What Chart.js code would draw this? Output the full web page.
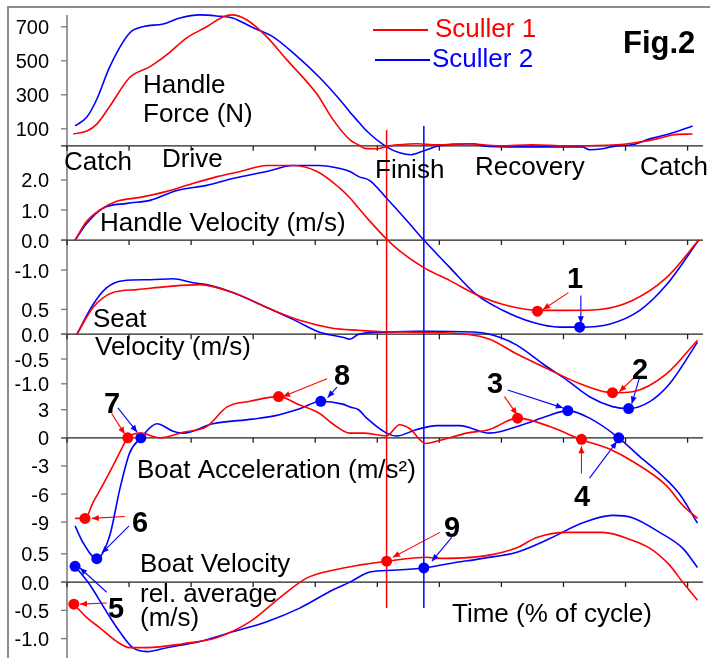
<!DOCTYPE html>
<html>
<head>
<meta charset="utf-8">
<title>Fig.2 sculler comparison</title>
<script src="https://cdn.jsdelivr.net/npm/chart.js@4/dist/chart.umd.min.js"></script>
<style>
  html, body { margin: 0; padding: 0; background: #fff; }
  #wrap { position: relative; width: 710px; height: 658px; }
</style>
</head>
<body>
<div id="wrap"><canvas id="rowingChart" width="710" height="658"></canvas></div>
<script>
// All series are [time (% of cycle), value] pairs
const forceS1 = [[1,70],[3.2,87],[4.8,128],[6.9,233],[10.1,402],[13.4,466],[16.1,536],[19.3,635],[22.5,700],[25.1,758],[26.6,770],[29,740],[32.2,641],[35.4,507],[40.3,303],[42.8,157],[45.6,35],[47,5],[48,-15],[50,-17],[51.5,-3],[53.6,6],[56.4,12],[59.6,6],[64.4,12],[69.7,0],[75,6],[80.5,0],[88.6,6],[92.3,23],[95,41],[97.6,64],[100.8,70]];
const forceS2 = [[1.3,117],[3.2,169],[4.8,274],[6.9,466],[10.1,664],[12.2,700],[15.5,717],[18.2,752],[21.4,770],[24.1,764],[26.7,752],[30,694],[33.2,641],[36.4,548],[40.7,402],[43.9,274],[45.6,198],[47,140],[48.3,87],[51.5,-6],[53.6,-41],[55.5,-52],[57.5,-29],[60,0],[65.4,12],[67,0],[72.5,-6],[77.8,-6],[83,-6],[84.2,-23],[86.3,-17],[88.6,0],[91,6],[93.9,41],[97,70],[100.8,117]];

const handleVelS1 = [[1.3,0],[3.2,0.63],[5.3,1.0],[8,1.29],[11.8,1.42],[16.1,1.62],[19.3,1.82],[24.2,2.11],[27.9,2.28],[32.2,2.48],[36.4,2.48],[40.3,2.28],[44,1.72],[45.6,1.4],[47,1.06],[48.8,0.63],[51.5,0.03],[53.6,-0.36],[57.5,-0.92],[61.7,-1.35],[66,-1.82],[70.9,-2.18],[75.8,-2.34],[80.5,-2.34],[85.8,-2.31],[91.1,-2.01],[96.6,-1.25],[101.8,0]];
const handleVelS2 = [[1.3,0],[3.2,0.56],[5.8,1.06],[9.7,1.22],[13.4,1.32],[17.7,1.65],[22.5,1.82],[26.7,2.05],[32.2,2.28],[36.4,2.48],[40.7,2.48],[44,2.38],[45.6,2.28],[47,2.11],[48.8,1.98],[51.5,1.39],[54.7,0.66],[57.5,0],[61.7,-0.92],[66,-1.82],[70.2,-2.34],[75,-2.74],[79.4,-2.9],[82.6,-2.9],[87.4,-2.8],[92.3,-2.34],[96.6,-1.49],[101.8,0]];

const seatVelS1 = [[1.6,0],[4.2,0.54],[7.4,0.84],[11.3,0.9],[16.1,0.96],[21.4,1.0],[26.7,0.84],[32.2,0.54],[37.5,0.28],[42.8,0.12],[47,0.08],[50.9,0.05],[56.4,0.04],[64.4,0],[68.1,-0.1],[72.5,-0.4],[77.8,-0.72],[83.1,-1.02],[87.9,-1.18],[91.1,-1.16],[96.6,-0.8],[101.6,-0.12]];
const seatVelS2 = [[1.6,0],[4.2,0.6],[6.4,0.94],[9,1.08],[13.4,1.1],[17.1,1.12],[20.3,1.04],[22.5,1.0],[26.7,0.84],[32.2,0.54],[36.4,0.3],[40.7,0.04],[44.4,-0.06],[45.6,-0.1],[47,0],[50.9,0.04],[56.4,0.06],[58.5,0.06],[66,0.04],[69.7,-0.06],[72.5,-0.22],[76.7,-0.6],[80.5,-0.92],[84.2,-1.26],[87.9,-1.46],[90.5,-1.5],[93.9,-1.36],[97.1,-1.0],[101.6,-0.16]];

const accelS1 = [[1.3,-8.6],[2.9,-8.6],[4.2,-6.9],[5.8,-5.0],[7.4,-3.0],[9,-0.9],[9.8,0],[11.8,0.5],[15,0],[18.7,0.6],[22.5,1.2],[25.8,3.3],[29.5,3.9],[34.1,4.4],[37.5,3.5],[40.7,2.6],[42.8,1.5],[45.6,0.5],[47.7,0.5],[51.5,0.2],[53.6,1.4],[55.2,1.0],[57.8,-0.6],[60.5,-0.2],[64.4,0.5],[68.1,0.9],[72.6,2.1],[77.8,1.2],[82.9,-0.2],[87.4,-1.2],[91.1,-2.5],[96.6,-5.1],[99.2,-7.2],[101.6,-8.6]];
const accelS2 = [[1.3,-9.4],[2.6,-11.2],[4.8,-12.9],[6.9,-10.4],[8.5,-5.5],[10.1,-1.6],[11.9,0],[14.5,1.5],[17.1,0.7],[18.7,0.5],[23.5,1.5],[29.9,2.0],[33.8,2.4],[37.5,3.1],[40.9,3.9],[44.4,3.6],[45.6,3.3],[47,3.0],[48.3,2.1],[51.5,0.5],[53.1,0.2],[56.4,0.9],[59.6,1.3],[63.3,1.3],[68.1,0.5],[73.4,1.4],[77.3,2.3],[80.7,2.9],[84.2,2.1],[88.9,0],[92.3,-2.0],[96,-4.1],[98.7,-6.0],[101.6,-9.1]];

const boatVelS1 = [[1.1,-0.39],[3.2,-0.63],[5.3,-0.81],[8,-1.05],[10.1,-1.16],[12.9,-1.16],[18.7,-1.09],[24.2,-0.98],[29.5,-0.7],[34.8,-0.23],[38.6,0.07],[42.8,0.21],[47,0.3],[51.5,0.37],[58,0.44],[59.6,0.42],[67,0.46],[72.5,0.61],[75.7,0.79],[80.5,0.88],[86.3,0.88],[91.1,0.74],[93.9,0.6],[97.1,0.3],[99.2,0],[101.6,-0.32]];
const boatVelS2 = [[1.3,0.28],[3.7,-0.05],[6.4,-0.53],[8.5,-0.88],[10.6,-1.16],[12.9,-1.23],[16.1,-1.16],[21.4,-1.05],[26.7,-0.88],[32.2,-0.7],[37.5,-0.46],[42.8,-0.14],[45.6,0],[48.8,0.18],[52.5,0.21],[57.5,0.25],[61.7,0.33],[67,0.42],[72.5,0.53],[77.8,0.77],[83.1,1.05],[87.9,1.18],[91.1,1.14],[95.5,0.88],[99.2,0.6],[101.6,0.26]];

// finish of the drive for each sculler (drawn against the boat velocity axis)
const finishS1 = [[51.5,8.0],[51.5,-0.46]];
const finishS2 = [[57.5,8.07],[57.5,-0.46]];

// numbered points: [time %, value]
const handleMarksS1 = [[75.8,-2.37]];           // 1
const handleMarksS2 = [[82.6,-2.9]];
const seatMarksS1 = [[87.9,-1.18]];             // 2
const seatMarksS2 = [[90.5,-1.5]];
const accelMarksS1 = [[72.6,2.1],[82.9,-0.16],[2.9,-8.6],[9.8,0],[34.1,4.4]];   // 3,4,6,7,8
const accelMarksS2 = [[80.7,2.9],[88.9,0],[4.8,-12.9],[11.9,0],[40.9,3.9]];
const boatMarksS1 = [[1.1,-0.39],[51.5,0.37]];  // 5,9
const boatMarksS2 = [[1.3,0.28],[57.5,0.25]];

// pointer lines from the numbers to the points: [axis, sculler, start, end]
const pointers = [
  ['yHandle', 'S1', [80.8,-1.75], [76.7,-2.31]],
  ['yHandle', 'S2', [82.8,-1.85], [82.8,-2.77]],
  ['ySeat', 'S1', [91.5,-0.86], [89.0,-1.16]],
  ['ySeat', 'S2', [92.3,-0.86], [91.0,-1.4]],
  ['yAccel', 'S1', [70.5,4.4], [72.5,2.5]],
  ['yAccel', 'S2', [71.0,5.1], [79.9,3.2]],
  ['yAccel', 'S1', [82.9,-3.8], [82.9,-0.9]],
  ['yAccel', 'S2', [84.2,-4.3], [88.6,-0.4]],
  ['yAccel', 'S1', [9.3,-8.4], [4.0,-8.6]],
  ['yAccel', 'S2', [10.0,-9.4], [5.6,-12.3]],
  ['yAccel', 'S1', [7.2,2.6], [9.3,0.4]],
  ['yAccel', 'S2', [8.2,3.2], [11.3,0.6]],
  ['yAccel', 'S1', [41.9,6.3], [34.8,4.4]],
  ['yAccel', 'S2', [43.5,5.4], [42.0,4.3]],
  ['yBoat', 'S1', [6.4,-0.37], [2.1,-0.39]],
  ['yBoat', 'S2', [6.4,-0.18], [2.1,0.25]],
  ['yBoat', 'S1', [60.1,0.88], [52.5,0.44]],
  ['yBoat', 'S2', [62.0,0.79], [58.8,0.37]]
];

// tick labels
const cycleTicks = [0,10,20,30,40,50,60,70,80,90,100];
const forceTicks = [700,500,300,100];
const handleVelTicks = [2,1,0,-1];
const seatVelTicks = [0.5,0,-0.5,-1];
const accelTicks = [3,0,-3,-6,-9];
const boatVelTicks = [0.5,0,-0.5,-1];

const COLORS = { S1: '#ff0000', S2: '#0000ff' };
const FONT = '"Liberation Sans", Arial, sans-serif';

// vertical placement of each panel: pixel row of its zero line and pixels per unit
const TOP = 10, BOTTOM = 658;
const panels = [
  { id: 'yForce', zero: 147, unit: 0.1715, ticks: forceTicks, digits: 0 },
  { id: 'yHandle', zero: 242, unit: 30.3, ticks: handleVelTicks, digits: 1 },
  { id: 'ySeat', zero: 337, unit: 50, ticks: seatVelTicks, digits: 1 },
  { id: 'yAccel', zero: 441.5, unit: 9.45, ticks: accelTicks, digits: 0 },
  { id: 'yBoat', zero: 587, unit: 57, ticks: boatVelTicks, digits: 1 }
];

// text placed on the figure: [text, x, baseline, style, color]
const labels = [
  ['Handle', 143, 93], ['Force (N)', 143, 122],
  ['Catch', 64, 170], ['Drive', 162, 167],
  ['Finish', 375, 178], ['Recovery', 475, 175], ['Catch', 640, 175],
  ['Handle Velocity (m/s)', 100, 231],
  ['Seat', 93, 327], ['Velocity (m/s)', 95, 355],
  ['Boat Acceleration (m/s²)', 137, 478],
  ['Boat Velocity', 140, 572], ['rel. average', 140, 602], ['(m/s)', 140, 626],
  ['Time (% of cycle)', 452, 622],
  ['Sculler 1', 435, 37, '', COLORS.S1], ['Sculler 2', 432, 67, '', COLORS.S2],
  ['Fig.2', 623, 53, 'bold 31px']
];
const numbers = [['1',575,288],['2',640,379],['3',495,393],['4',582,506],['5',116,618],['6',140,532],['7',112,413],['8',342,385],['9',452,537]];

function toXY(points) {
  return points.map(([x, y]) => ({ x, y }));
}

function curve(points, who, axis) {
  return {
    data: toXY(points), yAxisID: axis, borderColor: COLORS[who], borderWidth: 1.6,
    pointRadius: 0, cubicInterpolationMode: 'monotone', fill: false, clip: false
  };
}

function marks(points, who, axis) {
  return {
    data: toXY(points), yAxisID: axis, showLine: false, pointRadius: 5.5,
    pointBackgroundColor: COLORS[who], pointBorderWidth: 0, clip: false
  };
}

const datasets = [
  curve(forceS1, 'S1', 'yForce'), curve(forceS2, 'S2', 'yForce'),
  curve(handleVelS1, 'S1', 'yHandle'), curve(handleVelS2, 'S2', 'yHandle'),
  curve(seatVelS1, 'S1', 'ySeat'), curve(seatVelS2, 'S2', 'ySeat'),
  curve(accelS1, 'S1', 'yAccel'), curve(accelS2, 'S2', 'yAccel'),
  curve(boatVelS1, 'S1', 'yBoat'), curve(boatVelS2, 'S2', 'yBoat'),
  { data: toXY(finishS1), yAxisID: 'yBoat', borderColor: COLORS.S1, borderWidth: 1.5, pointRadius: 0, clip: false },
  { data: toXY(finishS2), yAxisID: 'yBoat', borderColor: COLORS.S2, borderWidth: 1.5, pointRadius: 0, clip: false },
  marks(handleMarksS1, 'S1', 'yHandle'), marks(handleMarksS2, 'S2', 'yHandle'),
  marks(seatMarksS1, 'S1', 'ySeat'), marks(seatMarksS2, 'S2', 'ySeat'),
  marks(accelMarksS1, 'S1', 'yAccel'), marks(accelMarksS2, 'S2', 'yAccel'),
  marks(boatMarksS1, 'S1', 'yBoat'), marks(boatMarksS2, 'S2', 'yBoat')
];
pointers.forEach(([axis, who, a, b]) => {
  datasets.push({ data: toXY([a, b]), yAxisID: axis, borderColor: COLORS[who], borderWidth: 1.1, pointRadius: 0, clip: false, arrow: true });
});

const scales = { x: { type: 'linear', display: false, min: 0, max: 102 } };
panels.forEach(p => {
  scales[p.id] = { type: 'linear', display: false, min: (p.zero - BOTTOM) / p.unit, max: (p.zero - TOP) / p.unit };
});

// draws the frame, the shared left axis, each panel's zero line and tick labels, and the text
const overlay = {
  id: 'overlay',
  beforeDatasetsDraw(chart) {
    const ctx = chart.ctx, area = chart.chartArea, xs = chart.scales.x;
    ctx.save();
    ctx.strokeStyle = '#8c8c8c';
    ctx.lineWidth = 2;
    ctx.beginPath();
    ctx.moveTo(8, chart.height); ctx.lineTo(8, 7); ctx.lineTo(chart.width, 7);
    ctx.stroke();

    ctx.strokeStyle = '#777';
    ctx.lineWidth = 1.5;
    ctx.beginPath();
    ctx.moveTo(area.left, 15); ctx.lineTo(area.left, chart.height);
    ctx.stroke();

    ctx.font = '20px ' + FONT;
    ctx.textAlign = 'right';
    ctx.textBaseline = 'middle';
    ctx.fillStyle = '#000';
    panels.forEach(p => {
      const ys = chart.scales[p.id];
      const y0 = ys.getPixelForValue(0);
      ctx.strokeStyle = '#222';
      ctx.lineWidth = 1.3;
      ctx.beginPath();
      ctx.moveTo(area.left - 6, y0); ctx.lineTo(area.right + 3, y0);
      cycleTicks.forEach(t => {
        const x = xs.getPixelForValue(t);
        ctx.moveTo(x, y0); ctx.lineTo(x, y0 + 5);
      });
      ctx.stroke();
      ctx.strokeStyle = '#777';
      p.ticks.forEach(v => {
        const y = ys.getPixelForValue(v);
        ctx.beginPath();
        ctx.moveTo(area.left - 6, y); ctx.lineTo(area.left, y);
        ctx.stroke();
        ctx.fillText(v.toFixed(p.digits), area.left - 18, y + 2);
      });
    });
    ctx.restore();
  },
  afterDatasetsDraw(chart) {
    const ctx = chart.ctx;
    ctx.save();
    chart.data.datasets.forEach((ds, i) => {
      if (!ds.arrow) return;
      const pts = chart.getDatasetMeta(i).data;
      const a = pts[0], b = pts[1];
      const ang = Math.atan2(b.y - a.y, b.x - a.x);
      ctx.fillStyle = ds.borderColor;
      ctx.beginPath();
      ctx.moveTo(b.x, b.y);
      ctx.lineTo(b.x - 7 * Math.cos(ang) + 3 * Math.sin(ang), b.y - 7 * Math.sin(ang) - 3 * Math.cos(ang));
      ctx.lineTo(b.x - 7 * Math.cos(ang) - 3 * Math.sin(ang), b.y - 7 * Math.sin(ang) + 3 * Math.cos(ang));
      ctx.closePath();
      ctx.fill();
    });
    ctx.restore();
  },
  afterDraw(chart) {
    const ctx = chart.ctx;
    ctx.save();
    ctx.textAlign = 'left';
    ctx.textBaseline = 'alphabetic';
    labels.forEach(([text, x, y, style, color]) => {
      ctx.font = (style || '26px') + ' ' + FONT;
      ctx.fillStyle = color || '#000';
      ctx.fillText(text, x, y);
    });
    // legend line samples
    ctx.lineWidth = 2;
    ctx.strokeStyle = COLORS.S1;
    ctx.beginPath(); ctx.moveTo(373, 30); ctx.lineTo(428, 30); ctx.stroke();
    ctx.strokeStyle = COLORS.S2;
    ctx.beginPath(); ctx.moveTo(375, 60); ctx.lineTo(430, 60); ctx.stroke();

    ctx.textAlign = 'center';
    ctx.fillStyle = '#000';
    ctx.font = 'bold 29px ' + FONT;
    numbers.forEach(([t, x, y]) => ctx.fillText(t, x, y));
    ctx.restore();
  }
};

new Chart(document.getElementById('rowingChart'), {
  type: 'line',
  data: { datasets },
  options: {
    responsive: false,
    animation: false,
    layout: { padding: { left: 67, right: 10, top: TOP, bottom: 0 } },
    scales,
    plugins: { legend: { display: false }, tooltip: { enabled: false } }
  },
  plugins: [overlay]
});
</script>
</body>
</html>
